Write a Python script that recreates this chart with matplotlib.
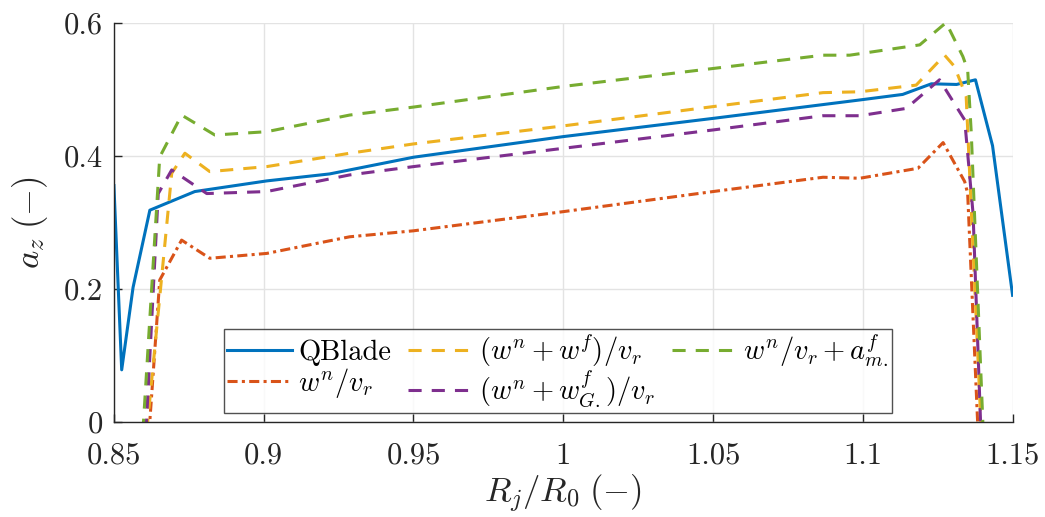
import numpy as np
import matplotlib
matplotlib.use("Agg")
import matplotlib.pyplot as plt

plt.rcParams["font.family"] = "serif"
plt.rcParams["font.serif"] = ["cmr10", "DejaVu Serif"]
plt.rcParams["mathtext.fontset"] = "cm"
plt.rcParams["axes.formatter.use_mathtext"] = True

# QBlade
x_qb = [0.85, 0.8526, 0.8564, 0.862, 0.877, 0.901, 0.922, 0.95, 1.0, 1.05,
        1.099, 1.1133, 1.1229, 1.1313, 1.1376, 1.1433, 1.15]
y_qb = [0.355, 0.078, 0.202, 0.318, 0.346, 0.362, 0.3725, 0.3976, 0.4286, 0.456,
        0.4837, 0.492, 0.508, 0.507, 0.514, 0.415, 0.19]

# w^n / v_r
x_wn = [0.8612, 0.8653, 0.8726, 0.882, 0.901, 0.9287, 0.95, 1.0, 1.05, 1.0867,
        1.099, 1.1184, 1.1268, 1.134, 1.135, 1.1388]
y_wn = [-0.05, 0.213, 0.273, 0.2457, 0.253, 0.278, 0.287, 0.3158, 0.346, 0.3675,
        0.366, 0.381, 0.4196, 0.361, 0.343, -0.05]

# (w^n + w^f) / v_r
x_wf = [0.8602, 0.8693, 0.8737, 0.882, 0.901, 0.9287, 0.95, 1.0, 1.05, 1.0867,
        1.099, 1.1178, 1.1273, 1.1306, 1.1345, 1.1399]
y_wf = [-0.05, 0.3735, 0.4036, 0.376, 0.3835, 0.4036, 0.4176, 0.4447, 0.4737, 0.4947,
        0.496, 0.506, 0.551, 0.534, 0.489, -0.05]

# (w^n + w^f_G.) / v_r
x_wg = [0.8603, 0.8648, 0.8693, 0.881, 0.901, 0.9287, 0.95, 1.0, 1.05, 1.0867,
        1.099, 1.1145, 1.1256, 1.134, 1.1368, 1.1397]
y_wg = [-0.05, 0.343, 0.3785, 0.343, 0.346, 0.371, 0.3835, 0.411, 0.4386, 0.46,
        0.46, 0.471, 0.514, 0.4537, 0.313, -0.05]

# w^n / v_r + a^f_m.
x_am = [0.8592, 0.8653, 0.8726, 0.8837, 0.901, 0.9287, 0.95, 1.0, 1.05, 1.0867,
        1.0956, 1.119, 1.1278, 1.1334, 1.135, 1.1362, 1.1405]
y_am = [-0.05, 0.398, 0.461, 0.431, 0.436, 0.461, 0.473, 0.504, 0.531, 0.551,
        0.551, 0.5665, 0.600, 0.549, 0.529, 0.434, -0.05]

xticks = [0.85, 0.9, 0.95, 1.0, 1.05, 1.1, 1.15]
xtick_labels = ["0.85", "0.9", "0.95", "1", "1.05", "1.1", "1.15"]
yticks = [0, 0.2, 0.4, 0.6]
ytick_labels = ["0", "0.2", "0.4", "0.6"]

fig = plt.figure(figsize=(10.45, 5.17), dpi=100)
ax = fig.add_axes([0.109, 0.1843, 0.860, 0.772])

lw = 2.2
ax.plot(x_qb, y_qb, color="#0072BD", lw=lw, label="QBlade")
ax.plot(x_wn, y_wn, color="#D95319", lw=lw, dashes=(3.3, 1.4, 1.0, 1.4),
        label=r"$w^n/v_r$")
ax.plot(x_wf, y_wf, color="#EDB120", lw=lw, dashes=(4.3, 3.3),
        label=r"$(w^n+w^f)/v_r$")
ax.plot(x_wg, y_wg, color="#7E2F8E", lw=lw, dashes=(4.3, 3.3),
        label=r"$(w^n+w^f_{G.})/v_r$")
ax.plot(x_am, y_am, color="#77AC30", lw=lw, dashes=(4.3, 3.3),
        label=r"$w^n/v_r+a^f_{m.}$")

ax.set_xlim(0.85, 1.15)
ax.set_ylim(0, 0.6)
ax.set_xticks(xticks)
ax.set_xticklabels(xtick_labels)
ax.set_yticks(yticks)
ax.set_yticklabels(ytick_labels)
ax.tick_params(direction="in", length=6, width=1, labelsize=22, colors="#262626")
ax.tick_params(axis="x", pad=15)
ax.tick_params(axis="y", pad=8)
ax.grid(True, color="#e3e3e3", lw=1)
ax.set_axisbelow(True)
for s in ["top", "right"]:
    ax.spines[s].set_visible(False)
for s in ["left", "bottom"]:
    ax.spines[s].set_color("#262626")
    ax.spines[s].set_linewidth(1)

ax.set_xlabel(r"$R_j/R_0\;(-)$", fontsize=25, color="#262626", labelpad=2)
ax.set_ylabel(r"$a_z\;(-)$", fontsize=25, color="#262626", labelpad=10)

leg = ax.legend(ncol=3, loc="lower left", bbox_to_anchor=(0.122, 0.023),
                fontsize=20.5, frameon=True, fancybox=False, edgecolor="#262626",
                handlelength=2.3, handletextpad=0.2, columnspacing=0.6,
                labelspacing=0.0, borderpad=0.12, borderaxespad=0)
leg.get_frame().set_linewidth(1)

fig.savefig("out.png", dpi=100)
